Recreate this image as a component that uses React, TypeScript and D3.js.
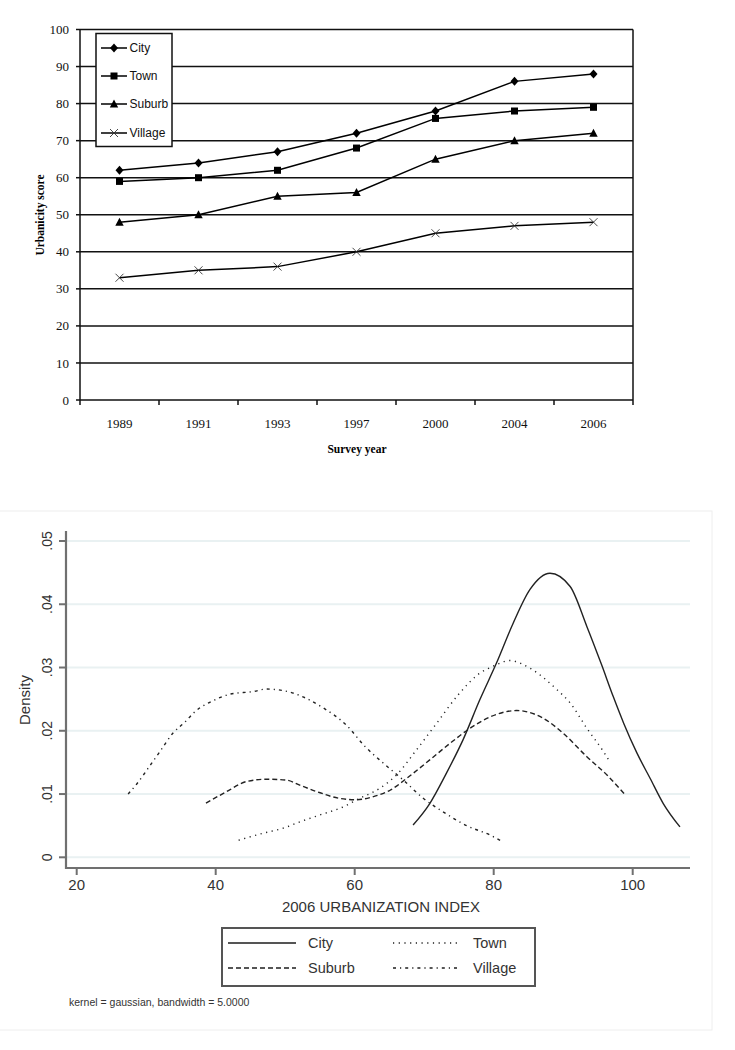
import React from "react";
import * as d3 from "d3";

// ---------- Top chart data ----------
const years = ["1989", "1991", "1993", "1997", "2000", "2004", "2006"];
const cityScores = [62, 64, 67, 72, 78, 86, 88];
const townScores = [59, 60, 62, 68, 76, 78, 79];
const suburbScores = [48, 50, 55, 56, 65, 70, 72];
const villageScores = [33, 35, 36, 40, 45, 47, 48];
const yTicksTop = [0, 10, 20, 30, 40, 50, 60, 70, 80, 90, 100];

// ---------- Bottom chart data (index, density) ----------
const cityDensity: [number, number][] = [
  [68.4, 0.0051], [70.8, 0.0085], [73.2, 0.0133], [75.6, 0.0186], [78.0, 0.0249],
  [80.4, 0.0307], [82.8, 0.037], [85.2, 0.0423], [88.1, 0.0449], [91.0, 0.0428],
  [93.4, 0.0365], [95.5, 0.0305], [97.2, 0.0254], [98.7, 0.0212], [100.6, 0.0165],
  [102.5, 0.0125], [104.4, 0.0085], [106.8, 0.0048],
];
const townDensity: [number, number][] = [
  [43.3, 0.0027], [46.8, 0.0038], [49.7, 0.0046], [52.1, 0.0056], [55.0, 0.0067],
  [58.4, 0.008], [60.3, 0.0091], [63.6, 0.0109], [66.0, 0.013], [68.9, 0.017],
  [71.8, 0.0212], [74.9, 0.0257], [78.0, 0.0291], [79.9, 0.0302], [82.3, 0.0311],
  [85.2, 0.0299], [89.1, 0.0265], [91.0, 0.0244], [93.4, 0.0204], [95.8, 0.0167],
  [96.7, 0.0151],
];
const suburbDensity: [number, number][] = [
  [38.6, 0.00855], [41.6, 0.0104], [44.5, 0.012], [47.3, 0.01234], [50.2, 0.0122],
  [52.1, 0.0114], [54.5, 0.0104], [57.9, 0.0093], [60.3, 0.0091], [62.7, 0.0096],
  [65.1, 0.0106], [67.5, 0.0125], [70.8, 0.0154], [73.7, 0.018], [76.6, 0.0204],
  [79.5, 0.0222], [83.3, 0.0232], [87.1, 0.022], [90.0, 0.0196], [93.4, 0.0159],
  [96.3, 0.013], [98.9, 0.0099],
];
const villageDensity: [number, number][] = [
  [27.4, 0.01], [28.5, 0.0114], [30.8, 0.0149], [31.9, 0.0166], [33.9, 0.0197],
  [35.5, 0.0213], [37.0, 0.023], [39.9, 0.0249], [42.1, 0.0258], [45.4, 0.0262],
  [47.3, 0.0266], [50.7, 0.0261], [55.5, 0.0236], [58.8, 0.0209], [61.5, 0.0175],
  [64.1, 0.0149], [67.0, 0.0122], [69.9, 0.0093], [72.7, 0.0072], [76.1, 0.005],
  [79.5, 0.0035], [81.2, 0.0025],
];
const xTicksBottom = [20, 40, 60, 80, 100];
const yTicksBottom = [0, 0.01, 0.02, 0.03, 0.04, 0.05];
const yTickLabelsBottom = ["0", ".01", ".02", ".03", ".04", ".05"];

const SERIF = "'Liberation Serif', 'Times New Roman', serif";
const SANS = "'Liberation Sans', Arial, Helvetica, sans-serif";

function Marker({ type, x, y }: { type: string; x: number; y: number }) {
  if (type === "diamond")
    return <path d={`M${x},${y - 4.5}L${x + 4},${y}L${x},${y + 4.5}L${x - 4},${y}Z`} fill="#000" />;
  if (type === "square")
    return <rect x={x - 3.5} y={y - 3.5} width={7} height={7} fill="#000" />;
  if (type === "triangle")
    return <path d={`M${x},${y - 4.5}L${x + 4.2},${y + 3.5}L${x - 4.2},${y + 3.5}Z`} fill="#000" />;
  return (
    <path
      d={`M${x - 4},${y - 4}L${x + 4},${y + 4}M${x - 4},${y + 4}L${x + 4},${y - 4}`}
      stroke="#333"
      strokeWidth={0.9}
      fill="none"
    />
  );
}

function TopChart() {
  const x = d3.scaleBand<string>().domain(years).range([80, 633]);
  const y = d3.scaleLinear().domain([0, 100]).range([400, 29.5]);
  const cx = (c: string) => (x(c) as number) + x.bandwidth() / 2;
  const series = [
    { name: "City", values: cityScores, marker: "diamond" },
    { name: "Town", values: townScores, marker: "square" },
    { name: "Suburb", values: suburbScores, marker: "triangle" },
    { name: "Village", values: villageScores, marker: "x" },
  ];
  const line = d3
    .line<number>()
    .x((_, i) => cx(years[i]))
    .y((v) => y(v));
  const edges = [...years.map((c) => x(c) as number), 633];
  const legendY = [48, 76, 104, 133];
  return (
    <g>
      {yTicksTop.map((t) => (
        <g key={t}>
          <line x1={80} x2={633} y1={y(t)} y2={y(t)} stroke="#111" strokeWidth={1.5} />
          <line x1={76} x2={80} y1={y(t)} y2={y(t)} stroke="#111" strokeWidth={1.5} />
          <text x={69} y={y(t)} dy="0.35em" textAnchor="end" fontFamily={SERIF} fontSize={13} fill="#111">
            {t}
          </text>
        </g>
      ))}
      <line x1={80} x2={80} y1={29.5} y2={400} stroke="#111" strokeWidth={1.5} />
      <line x1={633} x2={633} y1={29.5} y2={400} stroke="#111" strokeWidth={1.5} />
      {edges.map((e, i) => (
        <line key={i} x1={e} x2={e} y1={400} y2={405} stroke="#111" strokeWidth={1.5} />
      ))}
      {years.map((c) => (
        <text key={c} x={cx(c)} y={423} dy="0.35em" textAnchor="middle" fontFamily={SERIF} fontSize={13} fill="#111">
          {c}
        </text>
      ))}
      <text x={357} y={449} dy="0.35em" textAnchor="middle" fontFamily={SERIF} fontSize={11.5} fontWeight="bold">
        Survey year
      </text>
      <text
        transform="translate(40,215) rotate(-90)"
        textAnchor="middle"
        dy="0.35em"
        fontFamily={SERIF}
        fontSize={11.5}
        fontWeight="bold"
      >
        Urbanicity score
      </text>
      {series.map((s) => (
        <g key={s.name}>
          <path d={line(s.values) || ""} fill="none" stroke="#000" strokeWidth={1.5} />
          {s.values.map((v, i) => (
            <Marker key={i} type={s.marker} x={cx(years[i])} y={y(v)} />
          ))}
        </g>
      ))}
      <rect x={96} y={33.5} width={76} height={113} fill="#fff" stroke="#111" strokeWidth={1.5} />
      {series.map((s, i) => (
        <g key={s.name}>
          <line x1={101} x2={127} y1={legendY[i]} y2={legendY[i]} stroke="#000" strokeWidth={1.5} />
          <Marker type={s.marker} x={114} y={legendY[i]} />
          <text x={129.5} y={legendY[i]} dy="0.35em" fontFamily={SANS} fontSize={12} fill="#111">
            {s.name}
          </text>
        </g>
      ))}
    </g>
  );
}

function BottomChart() {
  const x = d3.scaleLinear().domain([20, 100]).range([76.7, 632.7]);
  const y = d3.scaleLinear().domain([0, 0.05]).range([857.3, 541]);
  const line = d3
    .line<[number, number]>()
    .x((d) => x(d[0]))
    .y((d) => y(d[1]))
    .curve(d3.curveMonotoneX);
  const curves = [
    { name: "City", data: cityDensity, dash: "none", width: 1.4 },
    { name: "Town", data: townDensity, dash: "1.2,4.5", width: 1.4 },
    { name: "Suburb", data: suburbDensity, dash: "5,3", width: 1.4 },
    { name: "Village", data: villageDensity, dash: "3,4,1.2,4", width: 1.4 },
  ];
  const axisColor = "#707070";
  return (
    <g>
      <rect x={-1} y={511} width={713} height={519} fill="none" stroke="#eeeeee" strokeWidth={1} />
      {yTicksBottom.map((t, i) => (
        <g key={t}>
          <line x1={66} x2={690} y1={y(t)} y2={y(t)} stroke="#e9f1f2" strokeWidth={2} />
          <line x1={59} x2={66} y1={y(t)} y2={y(t)} stroke={axisColor} strokeWidth={2} />
          <text
            transform={`translate(47,${y(t)}) rotate(-90)`}
            textAnchor="middle"
            dy="0.35em"
            fontFamily={SANS}
            fontSize={14}
            fill="#333"
          >
            {yTickLabelsBottom[i]}
          </text>
        </g>
      ))}
      <text
        transform="translate(25,700) rotate(-90)"
        textAnchor="middle"
        dy="0.35em"
        fontFamily={SANS}
        fontSize={15}
        fill="#333"
      >
        Density
      </text>
      <line x1={66} x2={66} y1={531} y2={869} stroke={axisColor} strokeWidth={2.2} />
      <line x1={65} x2={690} y1={868} y2={868} stroke={axisColor} strokeWidth={2.2} />
      {xTicksBottom.map((t) => (
        <g key={t}>
          <line x1={x(t)} x2={x(t)} y1={868} y2={875} stroke={axisColor} strokeWidth={2} />
          <text x={x(t)} y={885} dy="0.35em" textAnchor="middle" fontFamily={SANS} fontSize={15} fill="#333">
            {t}
          </text>
        </g>
      ))}
      <text x={381} y={907} dy="0.35em" textAnchor="middle" fontFamily={SANS} fontSize={15} fill="#333">
        2006 URBANIZATION INDEX
      </text>
      {curves.map((c) => (
        <path
          key={c.name}
          d={line(c.data) || ""}
          fill="none"
          stroke="#222"
          strokeWidth={c.width}
          strokeDasharray={c.dash}
        />
      ))}
      <rect x={222} y={928} width={313} height={58} fill="#fff" stroke="#555" strokeWidth={2} />
      {[
        { name: "City", dash: "none", lx: 228, ly: 943, tx: 308 },
        { name: "Town", dash: "1.2,4.5", lx: 393, ly: 943, tx: 473 },
        { name: "Suburb", dash: "5,3", lx: 228, ly: 968, tx: 308 },
        { name: "Village", dash: "3,4,1.2,4", lx: 393, ly: 968, tx: 473 },
      ].map((l) => (
        <g key={l.name}>
          <line
            x1={l.lx}
            x2={l.lx + 68}
            y1={l.ly}
            y2={l.ly}
            stroke="#555"
            strokeWidth={2}
            strokeDasharray={l.dash}
          />
          <text x={l.tx} y={l.ly} dy="0.35em" fontFamily={SANS} fontSize={14.5} fill="#333">
            {l.name}
          </text>
        </g>
      ))}
      <text x={69} y={1002} dy="0.35em" fontFamily={SANS} fontSize={10.5} fill="#333">
        kernel = gaussian, bandwidth = 5.0000
      </text>
    </g>
  );
}

export default function App() {
  return (
    <svg
      width={735}
      height={1050}
      style={{ position: "absolute", left: 0, top: 0, background: "#fff" }}
      xmlns="http://www.w3.org/2000/svg"
    >
      <rect x={0} y={0} width={735} height={1050} fill="#fff" />
      <TopChart />
      <BottomChart />
    </svg>
  );
}
